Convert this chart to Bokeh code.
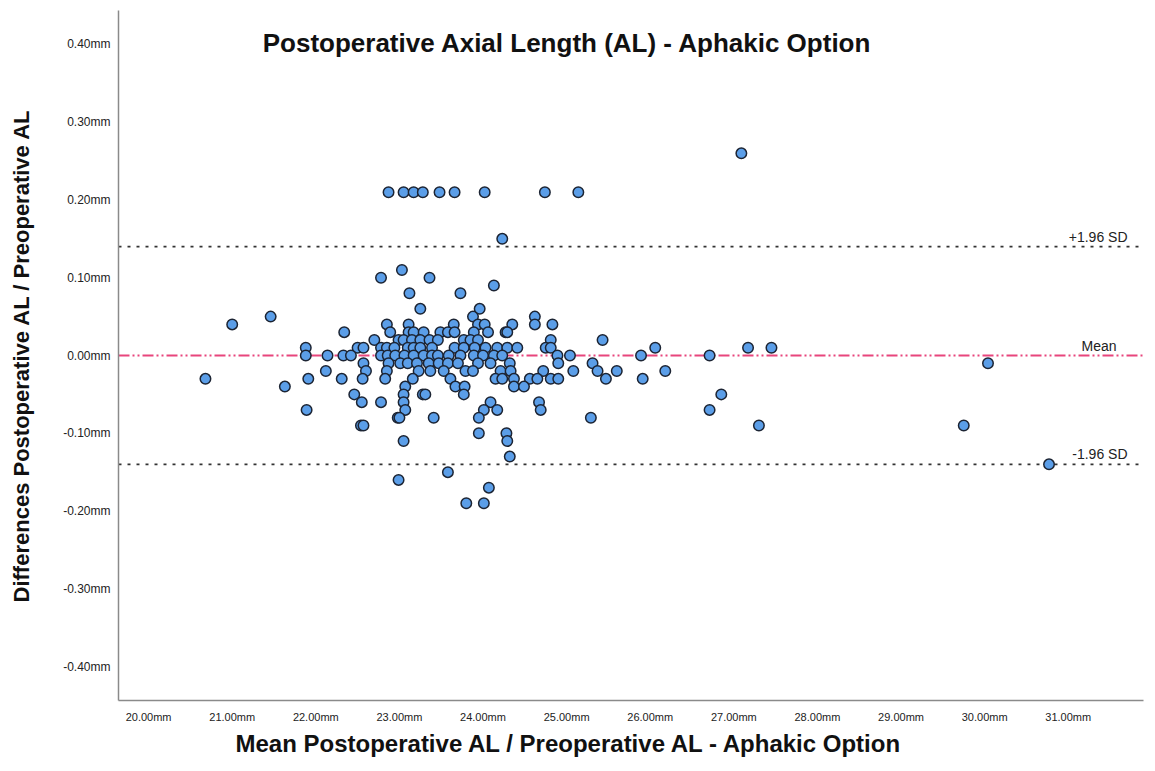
from bokeh.plotting import figure
from bokeh.models import Range1d, FixedTicker, Span, Label, ColumnDataSource, Title
from bokeh.embed import file_html
from bokeh.resources import INLINE

# ---- data ----
mean_al = [
    27.09,
    22.87, 23.05, 23.17, 23.28, 23.48, 23.66, 24.02, 24.74, 25.14,
    24.23,
    23.03,
    22.78, 23.36,
    24.13,
    23.12, 23.73,
    23.25, 23.96,
    21.46, 23.88, 24.62,
    21.00, 22.85, 23.11, 23.65, 23.94, 24.02, 24.35, 24.62, 24.83,
    22.34, 22.89, 23.11, 23.17, 23.29, 23.49, 23.58, 23.66, 23.89, 24.06, 24.27, 24.29,
    22.70, 22.99, 23.05, 23.15, 23.25, 23.36, 23.46, 23.77, 23.85, 23.94, 24.81, 25.43,
    21.88, 22.50, 22.57, 22.78, 22.85, 22.94, 23.10, 23.17, 23.25, 23.39, 23.66,
    23.77, 23.90, 24.03, 24.17, 24.29, 24.41, 24.75, 24.81, 26.06, 27.17, 27.45,
    21.88, 22.14, 22.33, 22.42, 22.78, 22.86, 22.95, 23.06, 23.17, 23.29, 23.39,
    23.46, 23.59, 23.73, 23.89, 24.00, 24.13, 24.23, 24.89, 25.04, 25.89, 26.71,
    22.57, 22.87, 23.01, 23.10, 23.21, 23.35, 23.47, 23.58, 23.70, 23.94, 24.09,
    24.32, 24.90, 25.31, 30.04,
    22.12, 22.60, 22.85, 23.23, 23.37, 23.53, 23.79, 23.88, 24.21, 24.33, 24.72,
    25.08, 25.37, 25.60, 26.18,
    20.68, 21.91, 22.31, 22.56, 22.83, 23.16, 23.61, 24.15, 24.23, 24.37, 24.56,
    24.65, 24.81, 24.90, 25.47, 25.91,
    21.63, 23.07, 23.67, 23.78, 24.37, 24.49,
    22.46, 23.05, 23.28, 23.31, 23.77, 26.85,
    22.55, 22.78, 23.05, 24.09, 24.67,
    21.89, 23.07, 24.01, 24.17, 24.69, 26.71,
    22.98, 23.00, 23.41, 23.95, 25.29,
    22.54, 22.57, 27.30, 29.75,
    23.95, 24.28,
    23.05, 24.29,
    24.32,
    30.77,
    23.58,
    22.99,
    24.07,
    23.80, 24.01,
]

diff_al = [
    0.26,
    0.21, 0.21, 0.21, 0.21, 0.21, 0.21, 0.21, 0.21, 0.21,
    0.15,
    0.11,
    0.10, 0.10,
    0.09,
    0.08, 0.08,
    0.06, 0.06,
    0.05, 0.05, 0.05,
    0.04, 0.04, 0.04, 0.04, 0.04, 0.04, 0.04, 0.04, 0.04,
    0.03, 0.03, 0.03, 0.03, 0.03, 0.03, 0.03, 0.03, 0.03, 0.03, 0.03, 0.03,
    0.02, 0.02, 0.02, 0.02, 0.02, 0.02, 0.02, 0.02, 0.02, 0.02, 0.02, 0.02,
    0.01, 0.01, 0.01, 0.01, 0.01, 0.01, 0.01, 0.01, 0.01, 0.01, 0.01,
    0.01, 0.01, 0.01, 0.01, 0.01, 0.01, 0.01, 0.01, 0.01, 0.01, 0.01,
    0.00, 0.00, 0.00, 0.00, 0.00, 0.00, 0.00, 0.00, 0.00, 0.00, 0.00,
    0.00, 0.00, 0.00, 0.00, 0.00, 0.00, 0.00, 0.00, 0.00, 0.00, 0.00,
    -0.01, -0.01, -0.01, -0.01, -0.01, -0.01, -0.01, -0.01, -0.01, -0.01, -0.01,
    -0.01, -0.01, -0.01, -0.01,
    -0.02, -0.02, -0.02, -0.02, -0.02, -0.02, -0.02, -0.02, -0.02, -0.02, -0.02,
    -0.02, -0.02, -0.02, -0.02,
    -0.03, -0.03, -0.03, -0.03, -0.03, -0.03, -0.03, -0.03, -0.03, -0.03, -0.03,
    -0.03, -0.03, -0.03, -0.03, -0.03,
    -0.04, -0.04, -0.04, -0.04, -0.04, -0.04,
    -0.05, -0.05, -0.05, -0.05, -0.05, -0.05,
    -0.06, -0.06, -0.06, -0.06, -0.06,
    -0.07, -0.07, -0.07, -0.07, -0.07, -0.07,
    -0.08, -0.08, -0.08, -0.08, -0.08,
    -0.09, -0.09, -0.09, -0.09,
    -0.10, -0.10,
    -0.11, -0.11,
    -0.13,
    -0.14,
    -0.15,
    -0.16,
    -0.17,
    -0.19, -0.19,
]

mean_diff = 0.00
upper_loa = 0.14
lower_loa = -0.14

x_ticks = [20, 21, 22, 23, 24, 25, 26, 27, 28, 29, 30, 31]
x_tick_labels = ["20.00mm", "21.00mm", "22.00mm", "23.00mm", "24.00mm", "25.00mm",
                 "26.00mm", "27.00mm", "28.00mm", "29.00mm", "30.00mm", "31.00mm"]
y_ticks = [-0.4, -0.3, -0.2, -0.1, 0.0, 0.1, 0.2, 0.3, 0.4]
y_tick_labels = ["-0.40mm", "-0.30mm", "-0.20mm", "-0.10mm", "0.00mm",
                 "0.10mm", "0.20mm", "0.30mm", "0.40mm"]

title_text = "Postoperative Axial Length (AL) - Aphakic Option"
x_title = "Mean Postoperative AL / Preoperative AL - Aphakic Option"
y_title = "Differences Postoperative AL / Preoperative AL"

FONT = "Liberation Sans"

p = figure(width=1150, height=758, output_backend="svg", toolbar_location=None,
           x_range=Range1d(19.64, 31.90), y_range=Range1d(-0.4437, 0.4437),
           min_border_left=118, min_border_right=7, min_border_top=10,
           min_border_bottom=20)
p.outline_line_color = None
p.xgrid.visible = False
p.ygrid.visible = False
p.background_fill_color = "white"

for ax in (p.xaxis[0], p.yaxis[0]):
    ax.axis_line_color = "#8a8a8a"
    ax.axis_line_width = 1.5
    ax.major_tick_line_color = None
    ax.minor_tick_line_color = None
    ax.major_tick_in = 0
    ax.major_tick_out = 0
    ax.minor_tick_in = 0
    ax.minor_tick_out = 0
    ax.major_label_text_font = FONT
    ax.major_label_text_color = "#222222"

p.xaxis.ticker = FixedTicker(ticks=x_ticks)
p.xaxis.major_label_overrides = dict(zip(x_ticks, x_tick_labels))
p.xaxis.major_label_text_font_size = "11px"
p.xaxis.major_label_standoff = 10

p.yaxis.ticker = FixedTicker(ticks=y_ticks)
p.yaxis.major_label_overrides = dict(zip(y_ticks, y_tick_labels))
p.yaxis.major_label_text_font_size = "12px"
p.yaxis.major_label_standoff = 8
p.yaxis.axis_label = y_title
p.yaxis.axis_label_text_font = FONT
p.yaxis.axis_label_text_font_style = "bold"
p.yaxis.axis_label_text_font_size = "22px"
p.yaxis.axis_label_text_color = "#111111"
p.yaxis.axis_label_standoff = 26

# x-axis title as a title panel below the axis (offset to match the original)
p.add_layout(Title(text=x_title, align="left", offset=117, standoff=4,
                   text_font=FONT, text_font_style="bold", text_font_size="24px",
                   text_color="#111111"), "below")

# reference lines
p.add_layout(Span(location=upper_loa, dimension="width", line_color="#333333",
                  line_dash="3 6", line_width=1.6, level="underlay"))
p.add_layout(Span(location=lower_loa, dimension="width", line_color="#333333",
                  line_dash="3 6", line_width=1.6, level="underlay"))
p.add_layout(Span(location=mean_diff, dimension="width", line_color="#e8457c",
                  line_dash="11 3 2 3 2 3", line_width=2, level="underlay"))

src = ColumnDataSource(data=dict(x=mean_al, y=diff_al))
p.scatter("x", "y", source=src, size=10.5, fill_color="#5b9ee8",
          line_color="#1c2433", line_width=1.5)

# line labels
for txt, yv, xs in (("+1.96 SD", upper_loa, 1009), ("Mean", mean_diff, 998),
                    ("-1.96 SD", lower_loa, 1009)):
    p.add_layout(Label(x=xs, y=yv, x_units="screen", y_units="data", text=txt,
                       text_align="right", text_baseline="bottom", y_offset=2,
                       text_font=FONT, text_font_size="14px", text_color="#222222"))

# chart title inside the frame
p.add_layout(Label(x=449, y=658, x_units="screen", y_units="screen", text=title_text,
                   text_align="center", text_baseline="middle", text_font=FONT,
                   text_font_style="bold", text_font_size="26px", text_color="#111111"))

open("out.html", "w").write(file_html(p, INLINE))
